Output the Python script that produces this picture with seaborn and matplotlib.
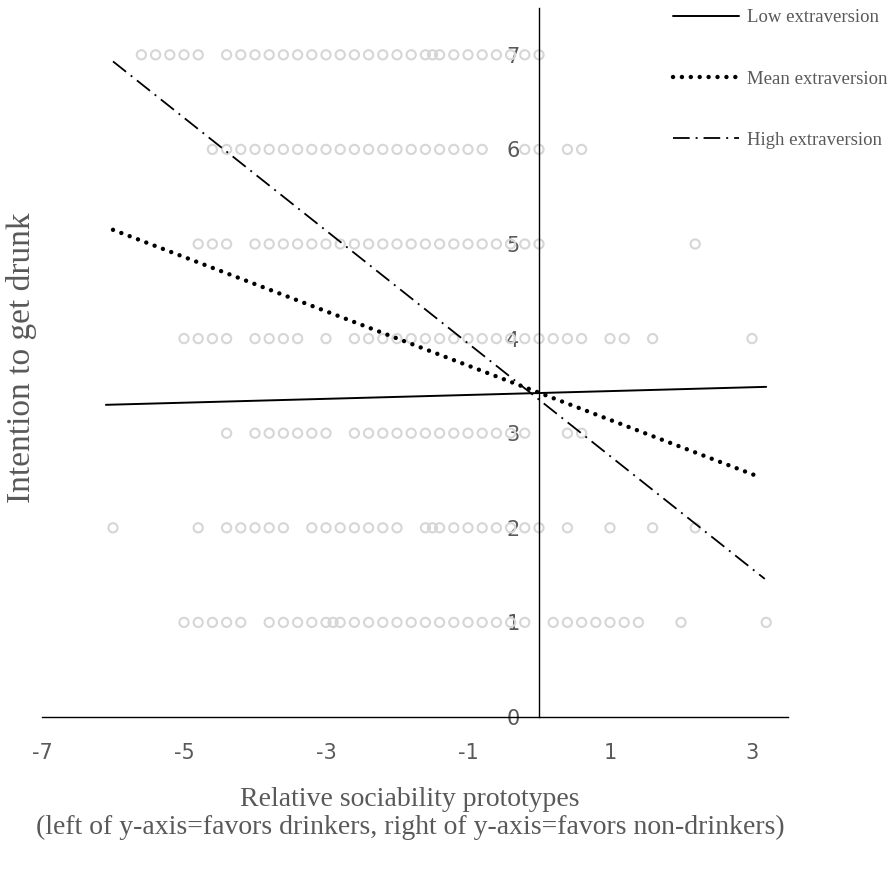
import numpy as np
import pandas as pd
import matplotlib
matplotlib.use("Agg")
import matplotlib.pyplot as plt
import seaborn as sns

# observed responses: x positions of the circles in each intention row
row_7 = [-5.6, -5.4, -5.2, -5.0, -4.8, -4.4, -4.2, -4.0, -3.8, -3.6, -3.4, -3.2, -3.0,
         -2.8, -2.6, -2.4, -2.2, -2.0, -1.8, -1.6, -1.5, -1.4, -1.2, -1.0, -0.8, -0.6,
         -0.4, -0.2, 0.0]
row_6 = [-4.6, -4.4, -4.2, -4.0, -3.8, -3.6, -3.4, -3.2, -3.0, -2.8, -2.6, -2.4, -2.2,
         -2.0, -1.8, -1.6, -1.4, -1.2, -1.0, -0.8, -0.2, 0.0, 0.4, 0.6]
row_5 = [-4.8, -4.6, -4.4, -4.0, -3.8, -3.6, -3.4, -3.2, -3.0, -2.8, -2.6, -2.4, -2.2,
         -2.0, -1.8, -1.6, -1.4, -1.2, -1.0, -0.8, -0.6, -0.4, -0.2, 0.0, 2.2]
row_4 = [-5.0, -4.8, -4.6, -4.4, -4.0, -3.8, -3.6, -3.4, -3.0, -2.6, -2.4, -2.2, -2.0,
         -1.8, -1.6, -1.4, -1.2, -1.0, -0.8, -0.6, -0.4, -0.2, 0.0, 0.2, 0.4, 0.6,
         1.0, 1.2, 1.6, 3.0]
row_3 = [-4.4, -4.0, -3.8, -3.6, -3.4, -3.2, -3.0, -2.6, -2.4, -2.2, -2.0, -1.8, -1.6,
         -1.4, -1.2, -1.0, -0.8, -0.6, -0.4, -0.2, 0.4, 0.6]
row_2 = [-6.0, -4.8, -4.4, -4.2, -4.0, -3.8, -3.6, -3.2, -3.0, -2.8, -2.6, -2.4, -2.2,
         -2.0, -1.6, -1.5, -1.4, -1.2, -1.0, -0.8, -0.6, -0.4, -0.2, 0.0, 0.4, 1.0,
         1.6, 2.2]
row_1 = [-5.0, -4.8, -4.6, -4.4, -4.2, -3.8, -3.6, -3.4, -3.2, -3.0, -2.9, -2.8, -2.6,
         -2.4, -2.2, -2.0, -1.8, -1.6, -1.4, -1.2, -1.0, -0.8, -0.6, -0.4, -0.2, 0.2,
         0.4, 0.6, 0.8, 1.0, 1.2, 1.4, 2.0, 3.2]
rows = {7: row_7, 6: row_6, 5: row_5, 4: row_4, 3: row_3, 2: row_2, 1: row_1}

# simple slopes (endpoints)
low_x, low_y = [-6.1, 3.2], [3.30, 3.49]
mean_x, mean_y = [-6.0, 3.13], [5.15, 2.53]
high_x, high_y = [-6.0, 3.18], [6.93, 1.46]
series_labels = ["Low extraversion", "Mean extraversion", "High extraversion"]

x_ticks = [-7, -5, -3, -1, 1, 3]
y_ticks = [0, 1, 2, 3, 4, 5, 6, 7]

sns.set_style("white")
plt.rcParams["font.family"] = ["DejaVu Sans"]
plt.rcParams["lines.scale_dashes"] = False

grey = "#595959"
serif = ["Liberation Serif", "DejaVu Serif"]

points = pd.DataFrame(
    [(x, y) for y, xs in rows.items() for x in xs], columns=["x", "y"]
)

fig = plt.figure(figsize=(8.93, 8.75), dpi=100)
ax = fig.add_axes([42 / 893, 158 / 875, 745.5 / 893, 709.5 / 875])

sns.scatterplot(data=points, x="x", y="y", ax=ax, marker="o", s=44,
                facecolor="none", edgecolor="#d6d6d6", linewidth=1.5,
                legend=False, zorder=1)

h_low = sns.lineplot(x=low_x, y=low_y, ax=ax, color="black", lw=1.4,
                     zorder=3).lines[-1]
h_mean = sns.lineplot(x=mean_x, y=mean_y, ax=ax, color="black", lw=3.2,
                      linestyle=(0, (0.01, 6.4)), dash_capstyle="round",
                      zorder=3).lines[-1]
h_high = sns.lineplot(x=high_x, y=high_y, ax=ax, color="black", lw=1.3,
                      linestyle=(0, (12, 4.3, 1.4, 4.3)), zorder=3).lines[-1]

ax.set_xlim(-7, 3.5)
ax.set_ylim(0, 7.5)
ax.set_xticks(x_ticks)
ax.set_yticks(y_ticks)
ax.set_xlabel("")
ax.set_ylabel("")

for side in ["top", "right"]:
    ax.spines[side].set_visible(False)
ax.spines["left"].set_position(("data", 0))
ax.spines["bottom"].set_position(("data", 0))
for side in ["left", "bottom"]:
    ax.spines[side].set_color("black")
    ax.spines[side].set_linewidth(1.0)
ax.tick_params(axis="x", length=0, pad=19, labelsize=15, labelcolor=grey)
ax.tick_params(axis="y", length=0, pad=14, labelsize=15, labelcolor=grey)

ax.set_xticklabels([str(t) for t in x_ticks])
ax.set_yticklabels([str(t) for t in y_ticks])

fig.legend([h_low, h_mean, h_high], series_labels, loc="upper left",
           bbox_to_anchor=(673 / 893, 1 - 9 / 875), frameon=False,
           prop={"family": serif, "size": 13.5}, labelcolor=grey,
           handlelength=3.5, handletextpad=0.43, labelspacing=2.36,
           borderpad=0, borderaxespad=0)

fig.text(22 / 893, 1 - 358 / 875, "Intention to get drunk", rotation=90,
         ha="center", va="center", fontsize=24, color=grey, family=serif)
fig.text(410 / 893, 1 - 799 / 875, "Relative sociability prototypes",
         ha="center", va="center", fontsize=20, color=grey, family=serif)
fig.text(410 / 893, 1 - 827 / 875,
         "(left of y-axis=favors drinkers, right of y-axis=favors non-drinkers)",
         ha="center", va="center", fontsize=20, color=grey, family=serif)

fig.savefig("out.png", dpi=100)
